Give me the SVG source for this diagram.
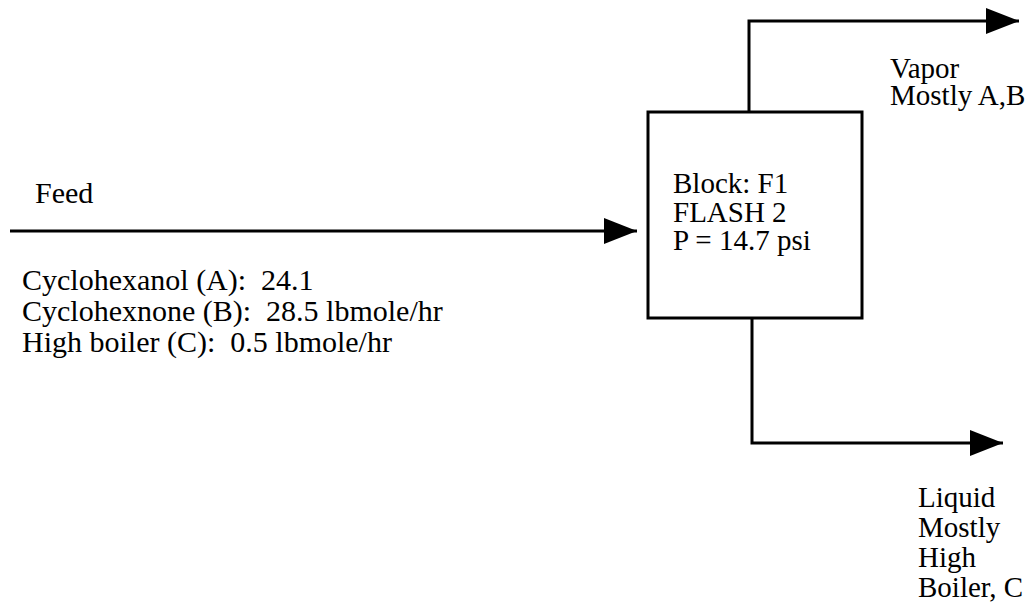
<svg xmlns="http://www.w3.org/2000/svg" width="1034" height="603" viewBox="0 0 1034 603">
<style>
text{font-family:"Liberation Serif","Times New Roman",serif;font-size:29px;fill:#000;white-space:pre}
.big{font-size:30px}
.ln{fill:none;stroke:#000;stroke-width:3}
.box{fill:#fff;stroke:#000;stroke-width:3}
</style>
<defs>
<marker id="ah" markerUnits="userSpaceOnUse" markerWidth="34" markerHeight="28" refX="33" refY="14" orient="auto">
<path d="M0,1 L33,14 L0,27 Z" fill="#000"/>
</marker>
</defs>
<rect width="1034" height="603" fill="#fff"/>
<g id="connectors">
<path class="ln" d="M10,231 L637,231" marker-end="url(#ah)"/>
<path class="ln" d="M749,112 L749,21 L1019,21" marker-end="url(#ah)"/>
<path class="ln" d="M752,318 L752,443 L1003,443" marker-end="url(#ah)"/>
</g>
<g id="flash">
<rect class="box" x="648" y="112" width="214" height="206"/>
<text x="673" y="193">Block: F1</text>
<text x="673" y="222">FLASH 2</text>
<text x="673" y="250">P = 14.7 psi</text>
</g>
<g id="feed-label">
<text class="big" x="35" y="203">Feed</text>
<text class="big" x="22" y="290">Cyclohexanol (A):  24.1</text>
<text class="big" x="22" y="321">Cyclohexnone (B):  28.5 lbmole/hr</text>
<text class="big" x="22" y="352">High boiler (C):  0.5 lbmole/hr</text>
</g>
<g id="vapor-label">
<text x="890" y="78">Vapor</text>
<text x="890" y="105">Mostly A,B</text>
</g>
<g id="liquid-label">
<text x="918" y="507">Liquid</text>
<text x="918" y="537">Mostly</text>
<text x="918" y="567">High</text>
<text x="918" y="597">Boiler, C</text>
</g>
</svg>
